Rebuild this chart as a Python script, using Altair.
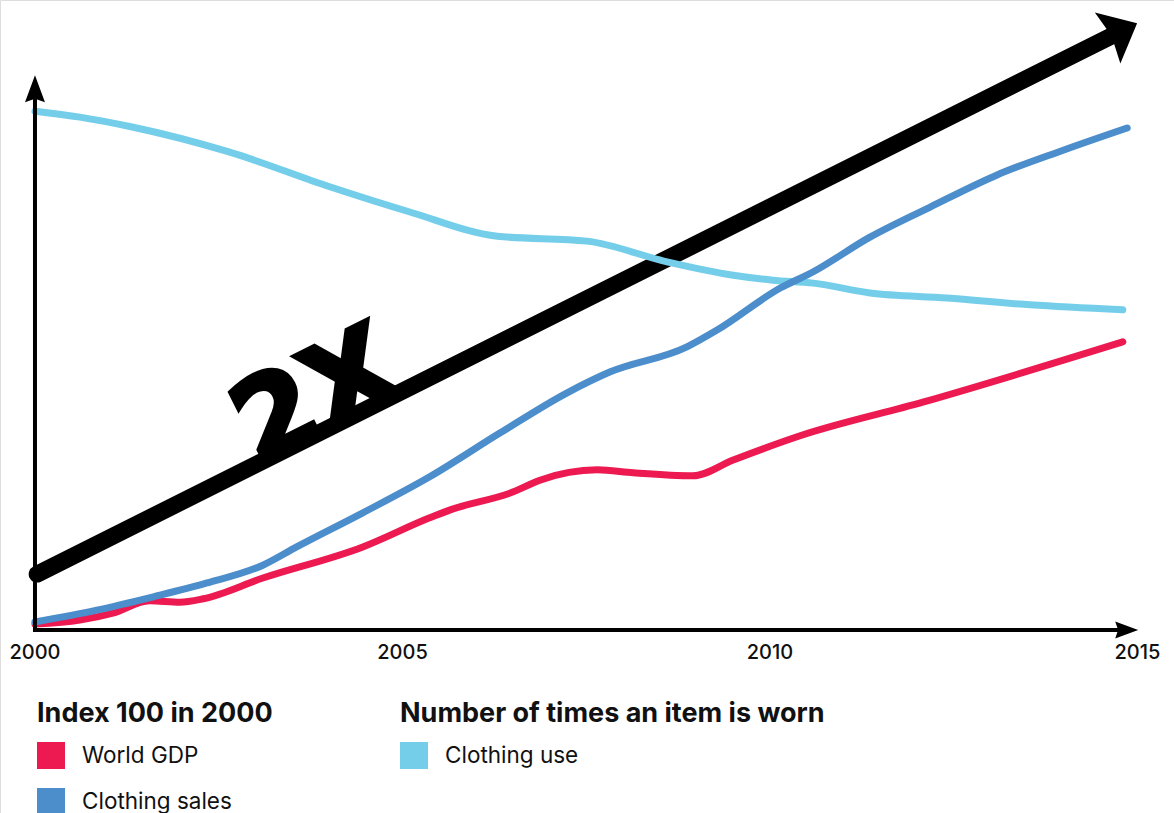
import altair as alt
import pandas as pd

# ---- series values (index 100 in 2000 / number of wears) ----
use_years = [2000.00, 2000.61, 2001.29, 2002.65, 2004.01, 2005.10, 2006.29, 2007.51,
             2008.60, 2009.50, 2010.04, 2010.59, 2011.36, 2012.41, 2013.54, 2014.80]
use_vals = [203.4, 202.2, 200.3, 195.1, 188.1, 183.0, 178.1, 177.1,
            172.9, 170.2, 169.2, 168.6, 166.6, 165.6, 164.2, 163.2]

sales_years = [2000.00, 2000.84, 2001.61, 2002.34, 2003.10, 2003.56, 2004.46, 2005.37,
               2006.33, 2007.24, 2007.82, 2008.87, 2009.28, 2010.14, 2010.59, 2011.36,
               2012.18, 2013.09, 2013.99, 2014.86]
sales_vals = [100.0, 102.4, 105.1, 107.9, 111.5, 115.2, 122.1, 129.4,
              138.3, 146.4, 150.6, 155.7, 159.1, 167.6, 170.9, 177.9,
              184.0, 190.5, 195.5, 200.0]

gdp_years = [2000.00, 2000.61, 2001.06, 2001.56, 2001.97, 2002.29, 2003.10, 2004.46,
             2005.37, 2005.65, 2006.50, 2006.87, 2007.65, 2008.14, 2008.95, 2009.50,
             2010.41, 2012.08, 2014.80]
gdp_vals = [99.6, 100.4, 101.8, 104.3, 104.0, 104.7, 108.9, 115.2,
            121.1, 122.7, 126.3, 128.7, 130.8, 130.2, 129.6, 132.8,
            137.7, 144.5, 156.7]

series_names = ["World GDP", "Clothing sales", "Clothing use"]
series_colors = ["#EC1A50", "#4C8DCB", "#74CEEA"]

tick_years = [2000, 2005, 2010, 2015]

# "2X" doubling arrow (year, value)
arrow_years = [2000.03, 2014.63]
arrow_vals = [109.7, 218.5]
arrow_label = "2X"
arrow_label_pos = (2004.05, 138.8)

# axis extents
axis_base = 98.4
x_axis_end = 2015.01
y_axis_end = 211.1

legend_groups = ["Index 100 in 2000", "Number of times an item is worn"]

# ---- scales ----
W, H = 1174, 813
xs = alt.Scale(domain=[1999.524, 2015.497], nice=False, zero=False)
ys = alt.Scale(domain=[61.34, 225.91], nice=False, zero=False)
FONT = "Inter"
INK = "#111111"


def xy(xf="year", yf="value"):
    return dict(x=alt.X(f"{xf}:Q", scale=xs, axis=None),
                y=alt.Y(f"{yf}:Q", scale=ys, axis=None))


rows = []
for name, yrs, vals in [("Clothing use", use_years, use_vals),
                        ("World GDP", gdp_years, gdp_vals),
                        ("Clothing sales", sales_years, sales_vals)]:
    for y_, v_ in zip(yrs, vals):
        rows.append({"series": name, "year": y_, "value": v_})
lines_df = pd.DataFrame(rows)

color = alt.Color("series:N", scale=alt.Scale(domain=series_names, range=series_colors), legend=None)

# big arrow
arrow_df = pd.DataFrame({"year": arrow_years, "value": arrow_vals})
shaft = alt.Chart(arrow_df).mark_line(color="black", strokeWidth=17, strokeCap="round").encode(**xy())
head = alt.Chart(arrow_df.tail(1)).mark_point(
    shape="M1,0 L-0.1,-0.95 L0.05,0 L-0.1,0.95 Z", size=3600, angle=333.4,
    filled=True, color="black", opacity=1, strokeWidth=0).encode(**xy())
big_text = alt.Chart(pd.DataFrame({"year": [arrow_label_pos[0]], "value": [arrow_label_pos[1]],
                                   "t": [arrow_label]})).mark_text(
    font="DejaVu Sans", fontSize=114, fontWeight="bold", stroke="black", strokeWidth=5,
    strokeJoin="miter", angle=333.4, align="center", baseline="alphabetic",
    color="black").encode(text="t:N", **xy())

# data lines (use drawn first, sales on top)
lines = alt.Chart(lines_df).mark_line(strokeWidth=7, strokeCap="round", strokeJoin="round",
                                      interpolate="monotone").encode(
    detail="series:N", color=color, order=alt.Order("year:Q"), **xy())

# axes with arrowheads
x_axis_df = pd.DataFrame({"year": [2000.0], "year2": [x_axis_end - 0.25], "value": [axis_base]})
x_axis = alt.Chart(x_axis_df).mark_rule(color="black", strokeWidth=4).encode(
    x=alt.X("year:Q", scale=xs, axis=None), x2="year2:Q", y=alt.Y("value:Q", scale=ys, axis=None))
y_axis_df = pd.DataFrame({"year": [2000.0], "value": [axis_base - 0.4], "value2": [y_axis_end - 4.0]})
y_axis = alt.Chart(y_axis_df).mark_rule(color="black", strokeWidth=4).encode(
    x=alt.X("year:Q", scale=xs, axis=None), y=alt.Y("value:Q", scale=ys, axis=None), y2="value2:Q")
x_head = alt.Chart(pd.DataFrame({"year": [x_axis_end], "value": [axis_base]})).mark_point(
    shape="M0,0 L-2,-0.74 L-1.75,0 L-2,0.74 Z", size=529, filled=True, color="black",
    opacity=1, strokeWidth=0).encode(**xy())
y_head = alt.Chart(pd.DataFrame({"year": [2000.0], "value": [y_axis_end - 0.4]})).mark_point(
    shape="M0,0 L-0.74,2 L0,1.75 L0.74,2 Z", size=729, filled=True, color="black",
    opacity=1, strokeWidth=0).encode(**xy())

tick_df = pd.DataFrame({"year": tick_years, "value": [93.7] * len(tick_years),
                        "t": [str(t) for t in tick_years]})
ticks = alt.Chart(tick_df).mark_text(font=FONT, fontSize=20, fontWeight=500, color=INK,
                                     align="center", baseline="middle").encode(text="t:N", **xy())


# ---- legend ----
def text_at(txt, px, py, size, weight="normal", baseline="middle"):
    return alt.Chart(pd.DataFrame({"t": [txt]})).mark_text(
        align="left", baseline=baseline, font=FONT, fontSize=size, fontWeight=weight,
        color=INK).encode(text="t:N", x=alt.value(px), y=alt.value(py))


def swatch(col, px, py):
    return alt.Chart(pd.DataFrame({"a": [0]})).mark_rect(color=col).encode(
        x=alt.value(px), x2=alt.value(px + 28), y=alt.value(py), y2=alt.value(py + 27))


legend_layers = [
    text_at(legend_groups[0], 37, 722, 27, "bold", "alphabetic"),
    text_at(legend_groups[1], 400, 722, 27, "bold", "alphabetic"),
]
legend_slots = [(37, 742), (37, 788), (400, 742)]
for name, col, (sx, sy) in zip(series_names, series_colors, legend_slots):
    legend_layers.append(swatch(col, sx, sy))
    legend_layers.append(text_at(name, sx + 45, sy + 14, 22.5))

chart = alt.layer(
    shaft, head, big_text, lines, x_axis, y_axis, x_head, y_head, ticks, *legend_layers
).properties(
    width=W, height=H, padding=0, autosize=alt.AutoSizeParams(type="none")
).configure_view(stroke=None).configure(background="white")

chart.save("out.html", embed_options={"renderer": "svg", "actions": False})
